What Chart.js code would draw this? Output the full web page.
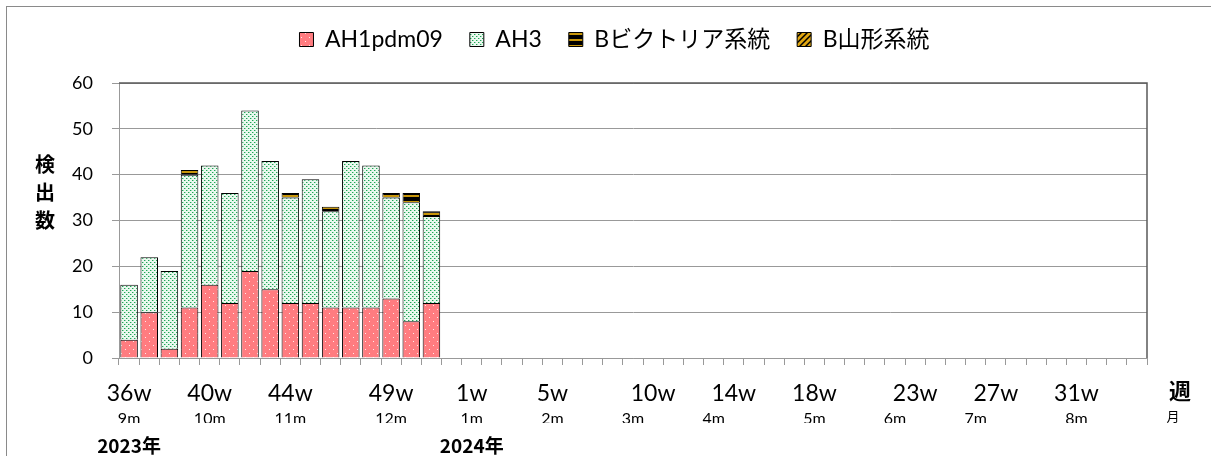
<!DOCTYPE html>
<html>
<head>
<meta charset="utf-8">
<title>検出数</title>
<script src="https://cdn.jsdelivr.net/npm/chart.js@4.4.1/dist/chart.umd.min.js"></script>
<style>
    html, body { margin: 0; padding: 0; background: #fff; }
    #wrap { position: relative; width: 1211px; height: 456px; overflow: hidden; }
    #frame { position: absolute; left: 6px; top: 6px; width: 1300px; height: 600px; border: 1px solid #8a8a8a; }
    #chart { position: absolute; left: 0; top: 0; }
</style>
</head>
<body>
<div id="wrap">
    <div id="frame"></div>
    <canvas id="chart" width="1211" height="456"></canvas>
</div>

<script type="text/javascript">
// 週 (2023年36週 ～ 2024年34週)
var weeks = ['36w','37w','38w','39w','40w','41w','42w','43w','44w','45w','46w','47w','48w','49w','50w','51w','52w',
    '1w','2w','3w','4w','5w','6w','7w','8w','9w','10w','11w','12w','13w','14w','15w','16w','17w','18w','19w','20w',
    '21w','22w','23w','24w','25w','26w','27w','28w','29w','30w','31w','32w','33w','34w'];
var shownWeeks = ['36w','40w','44w','49w','1w','5w','10w','14w','18w','23w','27w','31w'];
// 月ラベル (週 -> 月)
var monthWeeks = ['36w','40w','44w','49w','1w','5w','9w','13w','18w','22w','26w','31w'];
var monthNames = ['9m','10m','11m','12m','1m','2m','3m','4m','5m','6m','7m','8m'];
var yearWeeks = ['36w','1w'];
var yearNames = ['2023年','2024年'];

var ah1 = [4, 10, 2, 11, 16, 12, 19, 15, 12, 12, 11, 11, 11, 13, 8, 12];
var ah3 = [12, 12, 17, 29, 26, 24, 35, 28, 23, 27, 21, 32, 31, 22, 26, 19];
var bVic = [0, 0, 0, 1, 0, 0, 0, 0, 1, 0, 1, 0, 0, 1, 2, 1];
var bYam = [0, 0, 0, 0, 0, 0, 0, 0, 0, 0, 0, 0, 0, 0, 0, 0];

var yTitle = ['検', '出', '数'];

var latin = "Lato, 'Noto Sans CJK JP', sans-serif";
var cjk = "'Noto Sans CJK JP', sans-serif";

function makePattern(w, h, draw) {
    var c = document.createElement('canvas');
    c.width = w; c.height = h;
    var g = c.getContext('2d');
    draw(g, w, h);
    return g.createPattern(c, 'repeat');
}

var pinkFill = makePattern(8, 8, function (g, w, h) {
    g.fillStyle = '#ff7c80'; g.fillRect(0, 0, w, h);
    g.fillStyle = '#ffeaea'; g.fillRect(1, 1, 1, 1); g.fillRect(5, 5, 1, 1);
});
var greenFill = makePattern(4, 4, function (g, w, h) {
    g.fillStyle = '#eaf8ef'; g.fillRect(0, 0, w, h);
    g.fillStyle = '#1fa556'; g.fillRect(0, 0, 1, 1); g.fillRect(2, 2, 1, 1);
    g.fillStyle = '#98dbb1'; g.fillRect(1, 0, 1, 1); g.fillRect(3, 2, 1, 1);
});
var vicFill = makePattern(4, 6, function (g, w, h) {
    g.fillStyle = '#000'; g.fillRect(0, 0, w, h);
    g.fillStyle = '#c8960a'; g.fillRect(0, 3, w, 2);
});
var yamFill = makePattern(6, 6, function (g, w, h) {
    g.fillStyle = '#e0a610'; g.fillRect(0, 0, w, h);
    g.strokeStyle = '#000'; g.lineWidth = 1.5;
    g.beginPath(); g.moveTo(0, 6); g.lineTo(6, 0); g.moveTo(-1, 1); g.lineTo(1, -1); g.moveTo(5, 7); g.lineTo(7, 5); g.stroke();
});

var extraText = {
    id: 'extraText',
    afterDraw: function (chart) {
        var ctx = chart.ctx, a = chart.chartArea;
        ctx.save();
        ctx.strokeStyle = '#595959';
        ctx.lineWidth = 1.5;
        ctx.beginPath();
        ctx.moveTo(a.left, a.top);
        ctx.lineTo(a.right, a.top);
        ctx.lineTo(a.right, a.bottom);
        ctx.stroke();

        ctx.fillStyle = '#000';
        ctx.textAlign = 'center';
        ctx.textBaseline = 'middle';
        ctx.font = 'bold 20px ' + cjk;
        for (var i = 0; i < yTitle.length; i++) {
            ctx.fillText(yTitle[i], a.left - 74, 164 + i * 28);
        }
        ctx.font = 'bold 22px ' + cjk;
        ctx.fillText('週', a.right + 33, a.bottom + 33);
        ctx.font = '13px ' + cjk;
        ctx.fillText('月', a.right + 26, a.bottom + 58);
        ctx.restore();
    }
};

new Chart(document.getElementById('chart').getContext('2d'), {
    type: 'bar',
    data: {
        labels: weeks,
        datasets: [
            { label: 'AH1pdm09', data: ah1, backgroundColor: pinkFill, borderColor: '#000', borderWidth: 1 },
            { label: 'AH3', data: ah3, backgroundColor: greenFill, borderColor: '#000', borderWidth: 1 },
            { label: 'Bビクトリア系統', data: bVic, backgroundColor: vicFill, borderColor: '#000', borderWidth: 1 },
            { label: 'B山形系統', data: bYam, backgroundColor: yamFill, borderColor: '#000', borderWidth: 1 }
        ]
    },
    options: {
        responsive: false,
        animation: false,
        devicePixelRatio: 1,
        barPercentage: 0.87,
        categoryPercentage: 1,
        layout: { padding: { top: 1, right: 0, left: 18, bottom: 0 } },
        plugins: {
            tooltip: { enabled: false },
            legend: {
                position: 'top',
                labels: {
                    boxWidth: 14, boxHeight: 14, padding: 27, color: '#000',
                    font: { family: latin, size: 23 }
                }
            },
            // 凡例とグラフの間の余白
            title: {
                display: true, text: '', weight: 500,
                font: { size: 10, lineHeight: 1 },
                padding: { top: 0, bottom: 12 }
            }
        },
        scales: {
            x: {
                stacked: true,
                offset: true,
                grid: { drawOnChartArea: false, drawTicks: true, tickLength: 7, color: '#999', offset: true },
                border: { color: '#999' },
                ticks: {
                    autoSkip: false, maxRotation: 0, padding: 15, color: '#000',
                    font: { family: latin, size: 23 },
                    callback: function (v, i) {
                        return shownWeeks.indexOf(weeks[i]) >= 0 ? weeks[i] : '';
                    }
                },
                afterFit: function (s) { s.height = 43; }
            },
            xm: {
                type: 'category',
                position: 'bottom',
                offset: true,
                grid: { display: false },
                border: { display: false },
                ticks: {
                    autoSkip: false, maxRotation: 0, padding: 0, color: '#000',
                    font: { family: latin, size: 16 },
                    callback: function (v, i) {
                        var k = monthWeeks.indexOf(weeks[i]);
                        return k >= 0 ? monthNames[k] : '';
                    }
                },
                afterFit: function (s) { s.height = 22; }
            },
            xy: {
                type: 'category',
                position: 'bottom',
                offset: true,
                grid: { display: false },
                border: { display: false },
                ticks: {
                    autoSkip: false, maxRotation: 0, padding: 3, color: '#000',
                    font: { family: cjk, size: 19, weight: 'bold' },
                    callback: function (v, i) {
                        var k = yearWeeks.indexOf(weeks[i]);
                        return k >= 0 ? yearNames[k] : '';
                    }
                },
                afterFit: function (s) { s.height = 33; }
            },
            y: {
                stacked: true,
                min: 0,
                max: 60,
                grid: { color: '#999', tickLength: 7 },
                border: { color: '#999' },
                ticks: { stepSize: 10, padding: 19, color: '#000', font: { family: latin, size: 18 } },
                afterFit: function (s) { s.width = 101; }
            },
            // 右側の余白 (週・月ラベル用)
            pad: {
                type: 'linear',
                position: 'right',
                grid: { display: false },
                border: { display: false },
                ticks: { display: false },
                afterFit: function (s) { s.width = 64; }
            }
        }
    },
    plugins: [extraText]
});
</script>
</body>
</html>
